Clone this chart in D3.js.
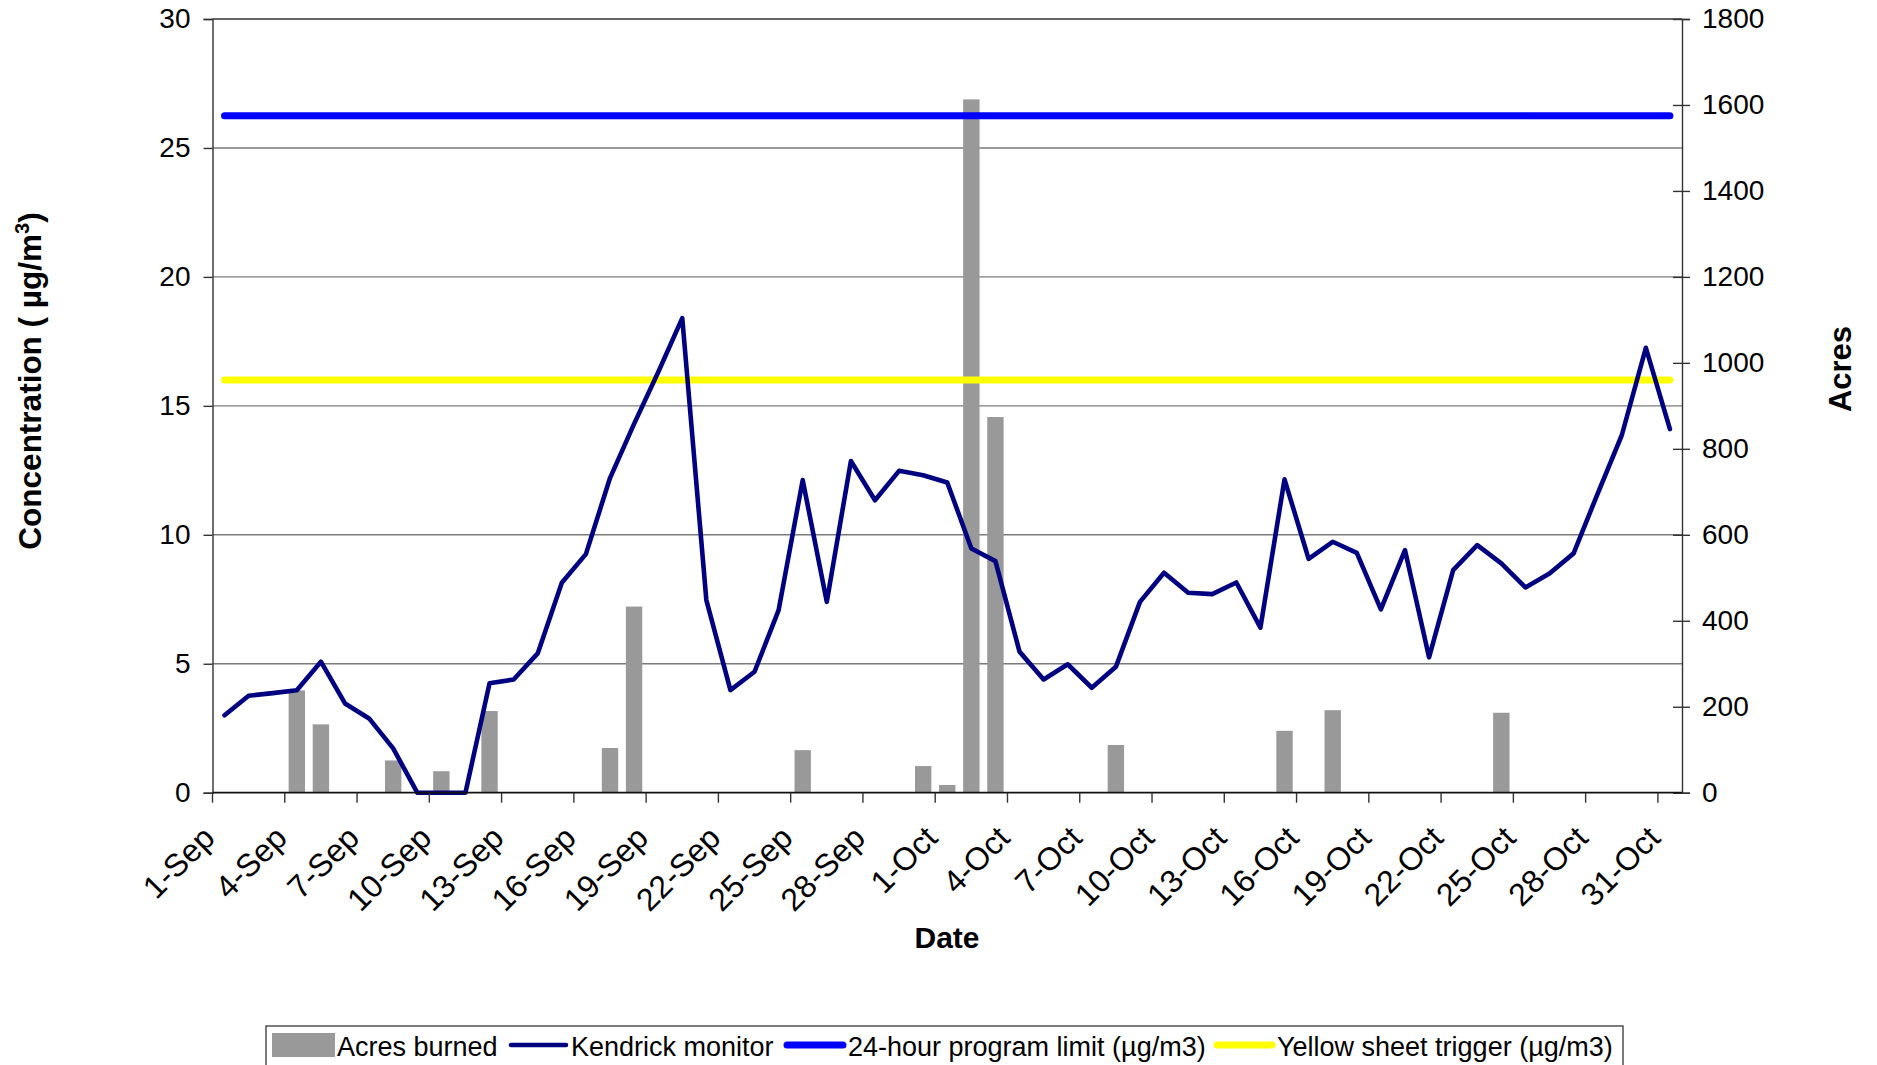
<!DOCTYPE html>
<html>
<head>
<meta charset="utf-8">
<script src="https://cdn.jsdelivr.net/npm/d3@7"></script>
<style>
  html, body { margin: 0; padding: 0; background: #fff; }
  svg text { font-family: "Liberation Sans", Arial, sans-serif; fill: #000; }
</style>
</head>
<body>
<svg id="chart" width="1877" height="1065"></svg>
<script>
// ---- Data ----
const dates = d3.timeDays(new Date(2000, 8, 1), new Date(2000, 10, 1)).map(d3.timeFormat("%-d-%b"));

const kendrick = [
  3.0, 3.76, 3.86, 3.97, 5.08, 3.46, 2.88, 1.72, 0, 0,
  0, 4.24, 4.39, 5.40, 8.14, 9.25, 12.2, 14.3, 16.3, 18.4,
  7.47, 3.98, 4.69, 7.08, 12.12, 7.40, 12.86, 11.34, 12.48, 12.31,
  12.03, 9.47, 8.98, 5.47, 4.39, 4.98, 4.07, 4.88, 7.40, 8.53,
  7.75, 7.70, 8.15, 6.40, 12.15, 9.07, 9.73, 9.30, 7.11, 9.41,
  5.25, 8.63, 9.60, 8.89, 7.96, 8.50, 9.28, 11.6, 13.86, 17.25,
  14.1
];

const acresDates = ["4-Sep","5-Sep","8-Sep","10-Sep","12-Sep","17-Sep","18-Sep","25-Sep","30-Sep","1-Oct","2-Oct","3-Oct","8-Oct","15-Oct","17-Oct","24-Oct"];
const acresValues = [238, 159, 75, 50, 190, 104, 433, 99, 62, 18, 1613, 874, 111, 144, 192, 186];

const programLimit = 26.25;
const yellowTrigger = 16;

const leftTicks = [0, 5, 10, 15, 20, 25, 30];
const rightTicks = [0, 200, 400, 600, 800, 1000, 1200, 1400, 1600, 1800];

const legendLabels = ["Acres burned", "Kendrick monitor", "24-hour program limit (\u00b5g/m3)", "Yellow sheet trigger (\u00b5g/m3)"];

// ---- Layout ----
const L = 212.5, R = 1682, T = 19, B = 792.7;
const svg = d3.select("#chart");

const x = d3.scaleBand().domain(dates).range([L, R]).paddingInner(0).paddingOuter(0);
const bw = x.bandwidth();
const cx = d => x(d) + bw / 2;
const yL = d3.scaleLinear().domain([0, 30]).range([B, T]);
const yR = d3.scaleLinear().domain([0, 1800]).range([B, T]);

// gridlines
svg.append("g").selectAll("line").data(leftTicks.filter(v => v > 0)).join("line")
  .attr("x1", L).attr("x2", R).attr("y1", d => yL(d)).attr("y2", d => yL(d))
  .attr("stroke", d => d === 30 ? "#333" : "#7a7a7a").attr("stroke-width", 1.4);

// bars
svg.append("g").selectAll("rect").data(acresDates.map((d, i) => ({d, v: acresValues[i]}))).join("rect")
  .attr("x", d => cx(d.d) - bw * 0.34).attr("width", bw * 0.68)
  .attr("y", d => yR(d.v)).attr("height", d => B - yR(d.v))
  .attr("fill", "#999999");

// horizontal reference lines
const firstC = cx(dates[0]), lastC = cx(dates[dates.length - 1]);
svg.append("line").attr("x1", firstC).attr("x2", lastC).attr("y1", yL(programLimit)).attr("y2", yL(programLimit))
  .attr("stroke", "#0000ff").attr("stroke-width", 7).attr("stroke-linecap", "round");
svg.append("line").attr("x1", firstC).attr("x2", lastC).attr("y1", yL(yellowTrigger)).attr("y2", yL(yellowTrigger))
  .attr("stroke", "#ffff00").attr("stroke-width", 7).attr("stroke-linecap", "round");

// Kendrick line
const line = d3.line().x((d, i) => cx(dates[i])).y(d => yL(d));
svg.append("path").datum(kendrick).attr("d", line)
  .attr("fill", "none").attr("stroke", "#000080").attr("stroke-width", 4.6)
  .attr("stroke-linejoin", "round").attr("stroke-linecap", "round");

// left axis
const gl = svg.append("g").attr("transform", `translate(${L},0)`)
  .call(d3.axisLeft(yL).tickValues(leftTicks).tickSize(9).tickPadding(13).tickFormat(d3.format("d")));
gl.select(".domain").attr("stroke", "#333").attr("stroke-width", 1.4);
gl.selectAll(".tick line").attr("stroke", "#333").attr("stroke-width", 1.4);
gl.selectAll("text").style("font-size", "28px").attr("fill", "#000");

// right axis
const gr = svg.append("g").attr("transform", `translate(${R},0)`)
  .call(d3.axisRight(yR).tickValues(rightTicks).tickSize(8).tickPadding(12).tickFormat(d3.format("d")));
gr.select(".domain").attr("stroke", "#333").attr("stroke-width", 1.4);
gr.selectAll(".tick line").attr("x1", -9).attr("stroke", "#333").attr("stroke-width", 1.4);
gr.selectAll("text").style("font-size", "28px").attr("fill", "#000");

// bottom axis
svg.append("line").attr("x1", L).attr("x2", R).attr("y1", B).attr("y2", B)
  .attr("stroke", "#111").attr("stroke-width", 1.8);
const tickDates = dates.filter((d, i) => i % 3 === 0);
svg.append("g").selectAll("line").data(tickDates).join("line")
  .attr("x1", d => x(d)).attr("x2", d => x(d)).attr("y1", B).attr("y2", B + 10)
  .attr("stroke", "#333").attr("stroke-width", 1.4);
svg.append("g").selectAll("text").data(tickDates).join("text")
  .attr("transform", d => `translate(${cx(d) - 8},840) rotate(-45)`)
  .attr("text-anchor", "end").style("font-size", "32px").text(d => d);

// axis titles
svg.append("text").attr("transform", "translate(41,381) rotate(-90)")
  .attr("text-anchor", "middle").style("font-size", "31.5px").style("font-weight", "bold")
  .call(t => {
    t.append("tspan").text("Concentration ( \u00b5g/m");
    t.append("tspan").attr("dy", "-0.6em").style("font-size", "20px").text("3");
    t.append("tspan").attr("dy", "0.38em").text(")");
  });
svg.append("text").attr("transform", "translate(1851,369) rotate(-90)")
  .attr("text-anchor", "middle").style("font-size", "31px").style("font-weight", "bold").text("Acres");
svg.append("text").attr("x", 947).attr("y", 948)
  .attr("text-anchor", "middle").style("font-size", "30px").style("font-weight", "bold").text("Date");

// legend
const lg = svg.append("g");
lg.append("rect").attr("x", 266).attr("y", 1026).attr("width", 1357).attr("height", 60)
  .attr("fill", "#fff").attr("stroke", "#444").attr("stroke-width", 1.4);
const ly = 1045;
lg.append("rect").attr("x", 272).attr("y", 1033).attr("width", 63).attr("height", 24).attr("fill", "#999999");
lg.append("line").attr("x1", 511).attr("x2", 566).attr("y1", ly).attr("y2", ly)
  .attr("stroke", "#000080").attr("stroke-width", 4.5).attr("stroke-linecap", "round");
lg.append("line").attr("x1", 787).attr("x2", 843).attr("y1", ly).attr("y2", ly)
  .attr("stroke", "#0000ff").attr("stroke-width", 7).attr("stroke-linecap", "round");
lg.append("line").attr("x1", 1217).attr("x2", 1272).attr("y1", ly).attr("y2", ly)
  .attr("stroke", "#ffff00").attr("stroke-width", 7).attr("stroke-linecap", "round");
const lx = [337, 571, 848, 1277];
lg.selectAll("text.leg").data(legendLabels).join("text").attr("class", "leg")
  .attr("x", (d, i) => lx[i]).attr("y", 1056).style("font-size", "27px").text(d => d);
</script>
</body>
</html>
